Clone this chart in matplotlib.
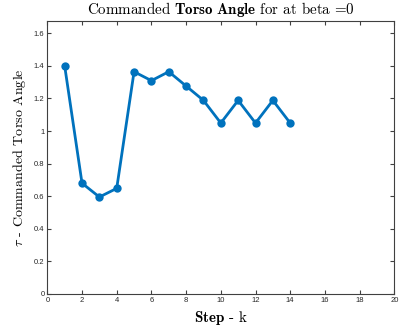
import matplotlib
matplotlib.use("Agg")
import matplotlib.pyplot as plt

steps = [1, 2, 3, 4, 5, 6, 7, 8, 9, 10, 11, 12, 13, 14]
torso = [1.40, 0.68, 0.595, 0.648, 1.364, 1.309, 1.364, 1.276, 1.188, 1.049, 1.188, 1.049, 1.188, 1.049]
xticks = [0, 2, 4, 6, 8, 10, 12, 14, 16, 18, 20]
yticks = [0, 0.2, 0.4, 0.6, 0.8, 1.0, 1.2, 1.4, 1.6]
yticklabels = ['0', '0.2', '0.4', '0.6', '0.8', '1', '1.2', '1.4', '1.6']

plt.rcParams['mathtext.fontset'] = 'cm'
plt.rcParams['font.family'] = ['Liberation Sans', 'DejaVu Sans']

fig = plt.figure(figsize=(4.10, 3.31), dpi=100)
ax = fig.add_axes([0.1154, 0.1118, 0.8463, 0.8257])
ax.plot(steps, torso, '-o', color='#0072BD', lw=2, ms=6, markeredgewidth=0)
ax.set_xlim(0, 20)
ax.set_ylim(0, 1.677)
ax.set_xticks(xticks)
ax.set_yticks(yticks)
ax.set_yticklabels(yticklabels)
axcol = '#404040'
for s in ax.spines.values():
    s.set_color(axcol)
    s.set_linewidth(0.8)
ax.tick_params(direction='in', length=3, width=0.8, color=axcol, labelcolor='#262626',
               labelsize=5.5, top=True, right=True, pad=2)
ax.set_title(r'Commanded $\mathbf{Torso\ Angle}$ for at beta =0',
             fontsize=10.8, pad=5, family='cmr10')
ax.set_xlabel(r'$\mathbf{Step}$ - k', fontsize=10.8, labelpad=4, family='cmr10')
ax.set_ylabel(r'$\tau$ - Commanded Torso Angle', fontsize=10.1, labelpad=4, family='cmr10')
fig.savefig('out.png', dpi=100)
